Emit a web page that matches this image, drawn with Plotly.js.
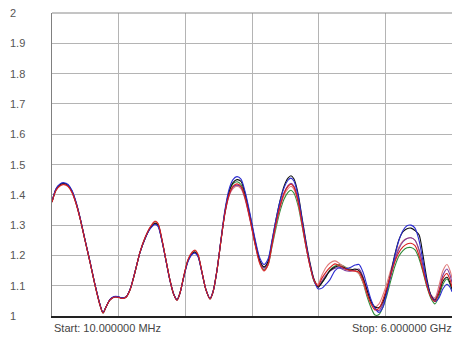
<!DOCTYPE html>
<html>
<head>
<meta charset="utf-8">
<script src="https://cdn.plot.ly/plotly-3.0.1.min.js"></script>
<style>html,body{margin:0;padding:0;background:#fff;overflow:hidden}#chart{width:452px;height:339px}</style>
</head>
<body>
<div id="chart"></div>
<script>
// Frequency (GHz)
const freq = [0.010,0.070,0.130,0.190,0.250,0.310,0.369,0.429,0.504,0.579,0.654,0.729,0.774,0.819,0.879,0.938,0.998,1.058,1.118,1.178,1.253,1.328,1.403,1.478,1.552,1.597,1.657,1.717,1.777,1.837,1.882,1.927,1.987,2.047,2.107,2.151,2.196,2.256,2.316,2.376,2.421,2.481,2.541,2.601,2.661,2.720,2.780,2.840,2.900,2.975,3.050,3.125,3.185,3.245,3.304,3.364,3.424,3.484,3.544,3.589,3.634,3.694,3.754,3.814,3.874,3.933,3.993,4.053,4.113,4.173,4.248,4.323,4.398,4.473,4.547,4.607,4.667,4.727,4.787,4.847,4.907,4.967,5.027,5.087,5.146,5.206,5.266,5.326,5.386,5.446,5.506,5.566,5.626,5.685,5.745,5.805,5.865,5.925,5.970,6.000];

const vswrRed = [1.376,1.415,1.430,1.434,1.428,1.408,1.372,1.323,1.250,1.178,1.102,1.036,1.010,1.030,1.053,1.062,1.062,1.058,1.062,1.086,1.145,1.211,1.258,1.292,1.312,1.305,1.252,1.184,1.118,1.069,1.052,1.076,1.135,1.186,1.210,1.217,1.203,1.145,1.086,1.056,1.079,1.151,1.250,1.342,1.400,1.428,1.436,1.428,1.392,1.320,1.238,1.172,1.150,1.170,1.235,1.305,1.362,1.405,1.428,1.435,1.425,1.380,1.305,1.230,1.165,1.118,1.100,1.125,1.145,1.160,1.172,1.165,1.155,1.150,1.148,1.145,1.118,1.075,1.040,1.020,1.025,1.055,1.095,1.140,1.180,1.210,1.228,1.238,1.240,1.232,1.200,1.150,1.098,1.062,1.048,1.080,1.125,1.140,1.120,1.095];

const vswrBlue = [1.378,1.420,1.436,1.440,1.434,1.414,1.377,1.326,1.252,1.180,1.104,1.038,1.012,1.030,1.055,1.064,1.064,1.060,1.063,1.088,1.146,1.210,1.255,1.287,1.302,1.296,1.247,1.182,1.117,1.070,1.054,1.076,1.132,1.180,1.203,1.207,1.196,1.142,1.087,1.058,1.080,1.152,1.255,1.352,1.418,1.450,1.460,1.452,1.412,1.338,1.255,1.190,1.170,1.188,1.250,1.318,1.378,1.422,1.448,1.455,1.445,1.398,1.320,1.240,1.170,1.118,1.090,1.092,1.105,1.120,1.150,1.160,1.155,1.160,1.168,1.170,1.145,1.100,1.055,1.025,1.012,1.030,1.080,1.140,1.200,1.250,1.282,1.298,1.300,1.290,1.250,1.180,1.110,1.065,1.048,1.060,1.090,1.105,1.095,1.080];

const vswrBlack = [1.377,1.418,1.434,1.438,1.432,1.412,1.375,1.325,1.251,1.179,1.103,1.037,1.011,1.030,1.054,1.063,1.063,1.059,1.063,1.087,1.145,1.210,1.256,1.289,1.306,1.300,1.249,1.183,1.117,1.069,1.053,1.076,1.133,1.183,1.206,1.211,1.199,1.144,1.086,1.057,1.080,1.152,1.252,1.346,1.410,1.440,1.450,1.444,1.405,1.332,1.250,1.182,1.162,1.180,1.245,1.318,1.380,1.428,1.455,1.463,1.452,1.405,1.325,1.245,1.175,1.122,1.095,1.110,1.130,1.150,1.162,1.165,1.158,1.152,1.155,1.150,1.125,1.085,1.048,1.030,1.028,1.048,1.090,1.145,1.205,1.252,1.278,1.288,1.290,1.282,1.268,1.200,1.120,1.068,1.052,1.075,1.115,1.128,1.110,1.090];

const vswrGreen = [1.376,1.416,1.432,1.436,1.430,1.410,1.373,1.324,1.250,1.178,1.102,1.036,1.010,1.029,1.053,1.063,1.063,1.059,1.062,1.086,1.144,1.210,1.256,1.290,1.307,1.301,1.250,1.184,1.118,1.069,1.053,1.076,1.134,1.184,1.207,1.212,1.200,1.144,1.086,1.056,1.078,1.150,1.250,1.345,1.408,1.436,1.443,1.434,1.398,1.325,1.242,1.175,1.152,1.168,1.228,1.290,1.345,1.385,1.408,1.415,1.405,1.365,1.298,1.228,1.165,1.115,1.098,1.110,1.130,1.152,1.165,1.170,1.162,1.155,1.150,1.140,1.110,1.065,1.028,1.003,1.005,1.030,1.070,1.120,1.165,1.198,1.216,1.225,1.226,1.218,1.190,1.145,1.095,1.058,1.040,1.065,1.105,1.122,1.105,1.085];

const vswrPurple = [1.377,1.418,1.433,1.437,1.431,1.411,1.374,1.324,1.251,1.179,1.103,1.037,1.011,1.030,1.054,1.063,1.063,1.059,1.062,1.087,1.145,1.210,1.256,1.289,1.305,1.299,1.249,1.183,1.117,1.069,1.053,1.076,1.133,1.182,1.205,1.210,1.198,1.143,1.086,1.057,1.079,1.151,1.250,1.340,1.398,1.425,1.432,1.425,1.390,1.320,1.240,1.178,1.158,1.176,1.238,1.305,1.362,1.405,1.430,1.438,1.428,1.385,1.310,1.234,1.168,1.118,1.096,1.115,1.135,1.148,1.158,1.158,1.150,1.148,1.152,1.155,1.130,1.088,1.050,1.025,1.018,1.040,1.085,1.135,1.185,1.222,1.245,1.256,1.258,1.250,1.220,1.165,1.108,1.068,1.055,1.085,1.135,1.155,1.135,1.110];

const vswrSalmon = [1.375,1.414,1.429,1.433,1.427,1.407,1.371,1.322,1.249,1.177,1.101,1.035,1.010,1.030,1.053,1.062,1.062,1.058,1.062,1.086,1.146,1.212,1.259,1.293,1.313,1.306,1.253,1.185,1.118,1.069,1.052,1.076,1.136,1.187,1.211,1.218,1.204,1.146,1.086,1.056,1.079,1.151,1.250,1.340,1.395,1.420,1.428,1.420,1.386,1.316,1.236,1.170,1.148,1.168,1.232,1.300,1.356,1.398,1.420,1.428,1.418,1.376,1.302,1.228,1.165,1.120,1.105,1.135,1.160,1.175,1.182,1.172,1.160,1.155,1.150,1.140,1.112,1.072,1.042,1.030,1.040,1.070,1.110,1.155,1.195,1.228,1.248,1.256,1.258,1.250,1.215,1.160,1.105,1.070,1.060,1.100,1.150,1.170,1.150,1.125];

const seriesNames = ['Green','Salmon','Purple','Black','Blue','Red'];
const seriesValues = [vswrGreen, vswrSalmon, vswrPurple, vswrBlack, vswrBlue, vswrRed];
const seriesColors = ['#2e8b3a','#e07a7a','#7a3a9a','#111111','#2b2bd0','#d81e1e'];

const yTickVals = [2,1.9,1.8,1.7,1.6,1.5,1.4,1.3,1.2,1.1,1];
const yTickText = ['2','1.9','1.8','1.7','1.6','1.5','1.4','1.3','1.2','1.1','1'];
const startLabel = 'Start: 10.000000 MHz';
const stopLabel = 'Stop: 6.000000 GHz';

const traces = seriesValues.map((v, i) => ({
  x: freq, y: v, type: 'scatter', mode: 'lines', name: seriesNames[i],
  line: {color: seriesColors[i], width: 1.1, shape: 'spline', smoothing: 0.8},
  hoverinfo: 'skip'
}));

const labelFont = {family: 'Liberation Sans, Arial, sans-serif', size: 11, color: '#555'};
const annotations = yTickVals.map((v, i) => ({
  xref: 'paper', yref: 'y', x: -0.11, y: v, xanchor: 'left', yanchor: 'middle',
  text: yTickText[i], showarrow: false, font: labelFont
}));
annotations.push({xref: 'paper', yref: 'paper', x: 0, y: -0.04, xanchor: 'left', yanchor: 'middle', text: startLabel, showarrow: false, font: {...labelFont, color: '#444'}});
annotations.push({xref: 'paper', yref: 'paper', x: 0.745, y: -0.04, xanchor: 'left', yanchor: 'middle', text: stopLabel, showarrow: false, font: {...labelFont, color: '#444'}});

const layout = {
  width: 452, height: 339,
  margin: {l: 52, r: 0, t: 13, b: 23, pad: 0},
  paper_bgcolor: '#fff', plot_bgcolor: '#fff',
  showlegend: false,
  xaxis: {range: [0.01, 6], tick0: 0.01, dtick: 5.99/6, showgrid: true, gridcolor: '#b4b4b4', gridwidth: 1,
          showticklabels: false, ticks: '', zeroline: false, showline: true, linecolor: '#222', linewidth: 2},
  yaxis: {range: [1, 2], tick0: 1, dtick: 0.1, showgrid: true, gridcolor: '#b4b4b4', gridwidth: 1,
          showticklabels: false, ticks: '', zeroline: false, showline: true, linecolor: '#808080', linewidth: 1},
  shapes: [{type: 'line', xref: 'paper', yref: 'paper', x0: 0, x1: 1, y0: 1, y1: 1, line: {color: '#8a8a8a', width: 1}}],
  annotations: annotations
};

Plotly.newPlot('chart', traces, layout, {staticPlot: true, displayModeBar: false});
</script>
</body>
</html>
